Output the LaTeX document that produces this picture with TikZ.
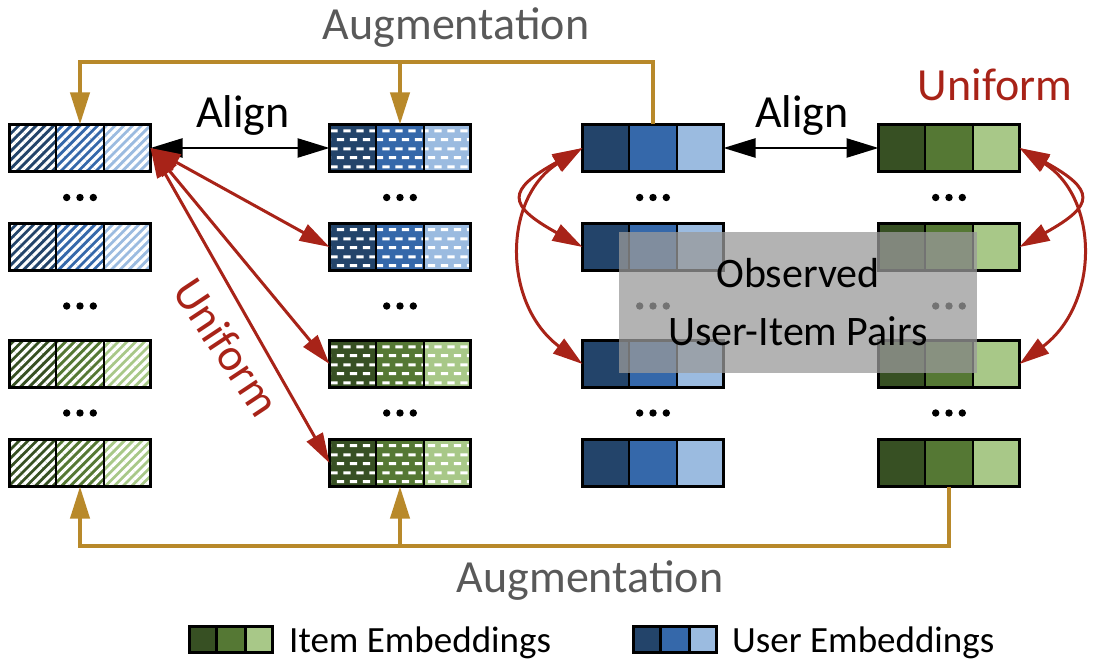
\documentclass[tikz,border=0pt]{standalone}
\usepackage{fontspec}
\setmainfont{Carlito}
\usetikzlibrary{arrows.meta,patterns.meta,calc}
\definecolor{bA}{RGB}{35,68,106}
\definecolor{bB}{RGB}{53,104,170}
\definecolor{bC}{RGB}{155,187,224}
\definecolor{gA}{RGB}{55,80,35}
\definecolor{gB}{RGB}{85,120,52}
\definecolor{gC}{RGB}{168,200,136}
\definecolor{goldc}{RGB}{184,137,42}
\definecolor{redc}{RGB}{168,35,24}
\definecolor{txtgray}{RGB}{89,89,89}
\definecolor{obsgray}{RGB}{154,154,154}

\pgfdeclarepattern{
  name=bricksdash,
  type=uncolored,
  bottom left={\pgfpoint{0pt}{0pt}},
  top right={\pgfpoint{13.4pt}{18pt}},
  tile size={\pgfpoint{13.4pt}{18pt}},
  code={
    \pgfpathrectangle{\pgfpoint{3pt}{3pt}}{\pgfpoint{7.5pt}{3.2pt}}
    \pgfpathrectangle{\pgfpoint{9.7pt}{12pt}}{\pgfpoint{3.7pt}{3.2pt}}
    \pgfpathrectangle{\pgfpoint{0pt}{12pt}}{\pgfpoint{3.8pt}{3.2pt}}
    \pgfusepath{fill}
  }
}

\tikzset{
  embox/.style={draw=black, line width=3pt, minimum width=141pt, minimum height=47pt, inner sep=0pt, outer sep=0pt},
  legbox/.style={draw=black, line width=3pt, minimum width=83pt, minimum height=26pt, inner sep=0pt, outer sep=0pt},
  stripes/.style={pattern={Lines[angle=45,distance=6.2pt,line width=3.1pt]}, pattern color=white},
  bricks/.style={pattern=bricksdash, pattern color=white},
  nopat/.style={},
  divider/.style={line width=2.5pt},
  goldln/.style={draw=goldc, line width=4pt},
  goldtip/.style={-{Triangle[length=32pt,width=19pt]}},
  alignarr/.style={line width=2.5pt, {Triangle[length=32pt,width=19pt]}-{Triangle[length=32pt,width=19pt]}},
  redarr/.style={draw=redc, line width=3pt, {Triangle[length=30pt,width=18pt]}-{Triangle[length=30pt,width=18pt]}},
  biglbl/.style={font=\fontsize{46}{55}\selectfont, inner sep=0pt},
  leglbl/.style={font=\fontsize{37}{44}\selectfont, inner sep=0pt, anchor=base west},
  dotc/.style={fill=black}
}

% #1 name, #2 x center, #3 y center, #4 palette (b/g), #5 overlay style
\newcommand\embbox[5]{%
  \foreach \i/\c in {0/#4A,1/#4B,2/#4C}{%
    \fill[\c] (#2-72+\i*48, #3-25) rectangle ++(48,50);
  }
  \path[#5] (#2-72, #3-25) rectangle ++(144,50);
  \draw[divider] (#2-24, #3-25) -- ++(0,50);
  \draw[divider] (#2+24, #3-25) -- ++(0,50);
  \node[embox] (#1) at (#2,#3) {};
}
\newcommand\legboxdraw[4]{%
  \foreach \i/\c in {0/#4A,1/#4B,2/#4C}{%
    \fill[\c] (#2-43+\i*28.67, #3-14.5) rectangle ++(28.67,29);
  }
  \draw[divider] (#2-14.33, #3-14.5) -- ++(0,29);
  \draw[divider] (#2+14.33, #3-14.5) -- ++(0,29);
  \node[legbox] (#1) at (#2,#3) {};
}

\begin{document}
\begin{tikzpicture}[x=1pt,y=-1pt]
\useasboundingbox (0,0) rectangle (1094,666);

% embedding boxes
\embbox{c1r1}{80}{148}{b}{stripes}
\embbox{c1r2}{80}{247}{b}{stripes}
\embbox{c1r3}{80}{364}{g}{stripes}
\embbox{c1r4}{80}{463}{g}{stripes}
\embbox{c2r1}{400}{148}{b}{bricks}
\embbox{c2r2}{400}{247}{b}{bricks}
\embbox{c2r3}{400}{364}{g}{bricks}
\embbox{c2r4}{400}{463}{g}{bricks}
\embbox{c3r1}{653}{148}{b}{nopat}
\embbox{c3r2}{653}{247}{b}{nopat}
\embbox{c3r3}{653}{364}{b}{nopat}
\embbox{c3r4}{653}{463}{b}{nopat}
\embbox{c4r1}{949}{148}{g}{nopat}
\embbox{c4r2}{949}{247}{g}{nopat}
\embbox{c4r3}{949}{364}{g}{nopat}
\embbox{c4r4}{949}{463}{g}{nopat}

% dots
\foreach \x in {80,400,653,949}{
  \foreach \y in {197.5,306,413}{
    \fill[dotc] (\x-13.3,\y) circle (3.7pt);
    \fill[dotc] (\x,\y) circle (3.7pt);
    \fill[dotc] (\x+13.3,\y) circle (3.7pt);
  }
}

% augmentation connectors
\coordinate (topY) at (0,62);
\coordinate (botY) at (0,546);
\draw[goldln, goldtip] (c3r1.north) |- (c1r1.north |- topY) -- (c1r1.north);
\draw[goldln, goldtip] (c2r1.north |- topY) -- (c2r1.north);
\draw[goldln, goldtip] (c4r4.south) |- (c1r4.south |- botY) -- (c1r4.south);
\draw[goldln, goldtip] (c2r4.south |- botY) -- (c2r4.south);

% align arrows
\draw[alignarr] (c1r1.east) -- (c2r1.west);
\draw[alignarr] (c3r1.east) -- (c4r1.west);

% uniform arrows (left)
\draw[redarr] (c1r1.east) -- (c2r2.west);
\draw[redarr] (c1r1.east) -- (c2r3.west);
\draw[redarr] (c1r1.east) -- (c2r4.west);

% uniform arrows (right, curved)
\draw[redarr] (c3r1.west) .. controls +(-76,42) and +(-76,-42) .. (c3r2.west);
\draw[redarr] (c3r1.west) .. controls +(-80,50) and +(-80,-60) .. (c3r3.west);
\draw[redarr] (c4r1.east) .. controls +(76,42) and +(76,-42) .. (c4r2.east);
\draw[redarr] (c4r1.east) .. controls +(80,50) and +(80,-60) .. (c4r3.east);

% observed pairs overlay
\node[fill=obsgray, fill opacity=0.75, text opacity=1, minimum width=358pt, minimum height=141pt,
      inner sep=0pt, align=center, font=\fontsize{42}{58}\selectfont] (obs) at (798,302.5)
      {Observed\\User-Item Pairs};

% labels
\node[biglbl, text=txtgray, anchor=base] (augtop) at (456,40) {Augmentation};
\node[biglbl, text=txtgray, anchor=base] (augbot) at (590,592) {Augmentation};
\node[biglbl, anchor=base] (alignL) at (243,128) {Align};
\node[biglbl, anchor=base] (alignR) at (802,128) {Align};
\node[biglbl, text=redc, anchor=base] (unifR) at (995,101) {Uniform};
\node[biglbl, text=redc, rotate=-56.5] (unifL) at (227,347) {Uniform};

% legend
\legboxdraw{legI}{231}{639.5}{g}
\node[leglbl] (legItxt) at (289,652) {Item Embeddings};
\legboxdraw{legU}{675}{639.5}{b}
\node[leglbl] (legUtxt) at (732,652) {User Embeddings};
\end{tikzpicture}
\end{document}
